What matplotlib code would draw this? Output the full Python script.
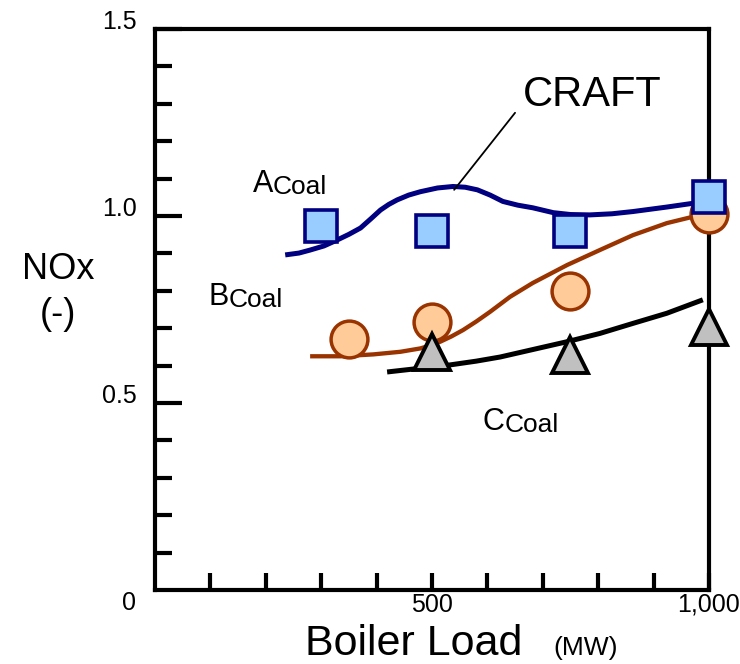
import matplotlib
matplotlib.use("Agg")
import matplotlib.pyplot as plt

plt.rcParams['font.family'] = ['Liberation Sans', 'DejaVu Sans']

# measured points
a_load = [300, 500, 750, 1000]
a_nox = [0.972, 0.960, 0.960, 1.051]
b_load = [350, 500, 750, 1000]
b_nox = [0.671, 0.717, 0.800, 1.006]
c_load = [500, 750, 1000]
c_nox = [0.637, 0.628, 0.702]

# CRAFT curves
a_curve_x = [235, 260, 280, 305, 329, 350, 371, 390, 407, 422, 437, 458, 479, 510, 538, 560,
             582, 605, 628, 655, 682, 719, 750, 785, 825, 863, 924, 971, 1002]
a_curve_y = [0.896, 0.901, 0.909, 0.920, 0.936, 0.951, 0.968, 0.993, 1.016, 1.031, 1.043, 1.056,
             1.065, 1.075, 1.079, 1.077, 1.070, 1.056, 1.039, 1.029, 1.022, 1.009, 1.004, 1.003,
             1.006, 1.012, 1.024, 1.034, 1.046]
b_curve_x = [280, 335, 394, 443, 479, 497, 515, 535, 556, 580, 605, 641, 682, 744, 803, 863,
             924, 971, 1002]
b_curve_y = [0.625, 0.625, 0.630, 0.637, 0.646, 0.654, 0.664, 0.678, 0.695, 0.718, 0.744, 0.784,
             0.821, 0.869, 0.909, 0.949, 0.981, 0.998, 1.008]
c_curve_x = [419, 473, 533, 580, 623, 682, 744, 803, 863, 924, 989]
c_curve_y = [0.583, 0.592, 0.602, 0.612, 0.623, 0.643, 0.664, 0.686, 0.713, 0.740, 0.776]

navy = "#000080"
brown = "#993300"

fig = plt.figure(figsize=(7.4, 6.64), dpi=100)
ax = fig.add_axes([0.2095, 0.1114, 0.7485, 0.8449])

ax.plot(a_curve_x, a_curve_y, color=navy, lw=3.6, solid_capstyle='butt',
        solid_joinstyle='round', zorder=2)
ax.plot(b_curve_x, b_curve_y, color=brown, lw=3.1, solid_capstyle='butt',
        solid_joinstyle='round', zorder=2)
ax.plot(c_curve_x, c_curve_y, color="black", lw=3.6, solid_capstyle='butt',
        solid_joinstyle='round', zorder=2)

ax.plot(b_load, b_nox, ls='none', marker='o', ms=26.5, mfc="#FFCC99", mec=brown, mew=2.5,
        zorder=3, clip_on=False)
ax.plot(c_load, c_nox, ls='none', marker='^', ms=25.5, mfc="#C0C0C0", mec="black", mew=2.8,
        zorder=4, clip_on=False)
ax.plot(a_load, a_nox, ls='none', marker='s', ms=23.5, mfc="#99CCFF", mec=navy, mew=2.6,
        zorder=5, clip_on=False)

ax.set_xlim(0, 1000)
ax.set_ylim(0, 1.5)

for s in ax.spines.values():
    s.set_linewidth(3)

ax.set_yticks([0.5, 1.0, 1.5])
ax.set_yticklabels(["0.5", "1.0", "1.5"], va='baseline')
ax.set_yticks([0.1, 0.2, 0.3, 0.4, 0.6, 0.7, 0.8, 0.9, 1.1, 1.2, 1.3, 1.4], minor=True)
ax.tick_params(axis='y', which='major', direction='in', length=19.5, width=3,
               labelsize=18, pad=13)
ax.tick_params(axis='y', which='minor', direction='in', length=12, width=3)

ax.set_xticks([500, 1000])
ax.set_xticklabels(["500", "1,000"])
ax.set_xticks([100, 200, 300, 400, 600, 700, 800, 900], minor=True)
ax.tick_params(axis='x', which='both', direction='in', length=12, width=3,
               labelsize=18, pad=2)

fig.text(129 / 740, 1 - 603 / 664, "0", fontsize=18, ha='center', va='center')

# axis titles
fig.text(58 / 740, 1 - 270 / 664, "NOx", fontsize=26, ha='center', va='center')
fig.text(58 / 740, 1 - 315 / 664, "(-)", fontsize=26, ha='center', va='center')
fig.text(305 / 740, 1 - 655 / 664, "Boiler Load", fontsize=31, ha='left', va='baseline')
fig.text(553 / 740, 1 - 655 / 664, "(MW)", fontsize=19, ha='left', va='baseline')

# coal labels
for letter, lx, ly in [("A", 176, 1.065), ("B", 96, 0.762), ("C", 592, 0.427)]:
    t = ax.text(lx, ly, letter, fontsize=22, ha='left', va='baseline')
    ax.annotate("Coal", xy=(1, 0), xycoords=t, fontsize=19, ha='left', va='bottom')

# CRAFT callout
ax.annotate("", xy=(540, 1.070), xytext=(650, 1.276),
            arrowprops=dict(arrowstyle='-', color='black', lw=1.3, shrinkA=0, shrinkB=0))
ax.text(665, 1.295, "CRAFT", fontsize=30, ha='left', va='baseline')

fig.savefig("out.png", dpi=100)
